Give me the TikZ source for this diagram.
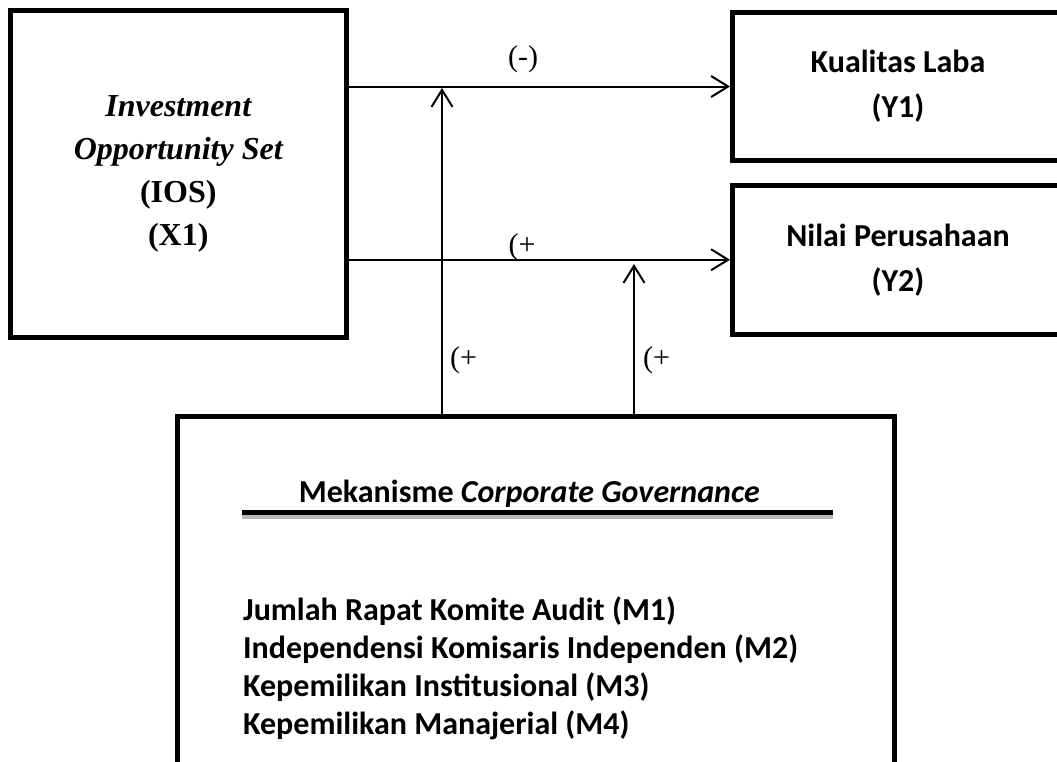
\documentclass[tikz,border=0pt]{standalone}
\usepackage{fontspec}
\setmainfont{Carlito}
\newfontfamily\timesfont{Liberation Serif}
\usetikzlibrary{arrows.meta}

\begin{document}
\begin{tikzpicture}[x=1pt,y=-1pt,
    box/.style={draw,line width=5pt,inner sep=0pt,outer sep=2.5pt},
    arr/.style={line width=2pt,-{Straight Barb[length=17pt,width=21pt,line width=2pt]}},
    sign/.style={font=\timesfont\fontsize{30}{30}\selectfont,inner sep=0pt},
    item/.style={font=\bfseries\fontsize{32}{38}\selectfont,inner sep=0pt}]
\clip (0,0) rectangle (1057,761);
% boxes
\node[box,minimum width=335.5pt,minimum height=327pt,align=center,
    font=\timesfont\bfseries\fontsize{32}{43}\selectfont] (ios) at (178.25,174)
    {{\itshape Investment}\\{\itshape Opportunity Set}\\(IOS)\\(X1)};
\node[box,minimum width=331pt,minimum height=148pt,align=center,
    font=\bfseries\fontsize{32}{45}\selectfont] (kl) at (898,86.5)
    {Kualitas Laba\\(Y1)};
\node[box,minimum width=331pt,minimum height=149.5pt,align=center,
    font=\bfseries\fontsize{32}{45}\selectfont] (np) at (898,259.75)
    {Nilai Perusahaan\\(Y2)};
\node[box,minimum width=717.5pt,minimum height=420pt,anchor=north west] (cg) at (174.5,413.5) {};
% inside the governance box
\node[item,anchor=base east] (cghead) at (760,502) {Mekanisme \textit{Corporate Governance}};
\draw[gray!55,line width=4pt] (242,516.5) -- (833,516.5);
\draw[line width=5pt] (242,512.5) -- (833,512.5);
\foreach \t [count=\i] in {Jumlah Rapat Komite Audit (M1),
    Independensi Komisaris Independen (M2),
    Kepemilikan Institusional (M3),
    Kepemilikan Manajerial (M4)}
    {\node[item,anchor=base west] (m\i) at (243,{620+38*(\i-1)}) {\t};}
% arrows
\coordinate (t1) at (442,88);
\coordinate (t2) at (634,264);
\draw[arr] (ios.east |- kl.west) -- (kl.west);
\draw[arr] (ios.east |- np.west) -- (np.west);
\draw[arr] (cg.north -| t1) -- (t1);
\draw[arr] (cg.north -| t2) -- (t2);
% signs
\node[sign] (s1) at (523,59) {(-)};
\node[sign] (s2) at (522,247) {(+};
\node[sign,anchor=west] (s3) at (450,360) {(+};
\node[sign,anchor=west] (s4) at (643,360) {(+};
\end{tikzpicture}
\end{document}
